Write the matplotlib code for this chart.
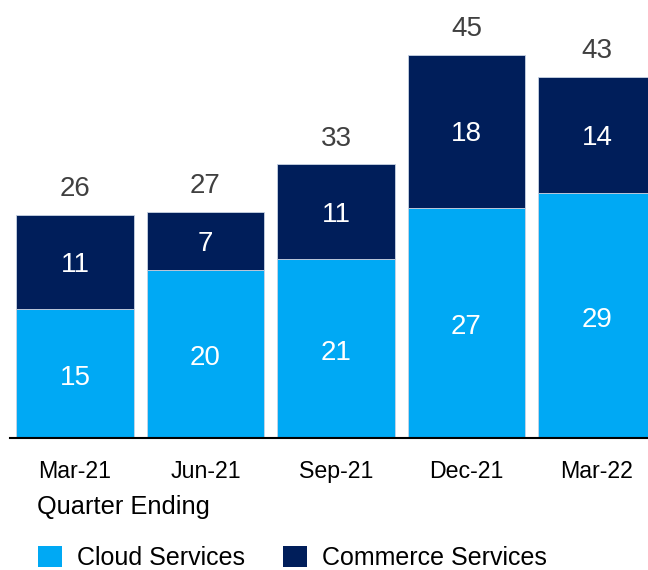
import matplotlib
matplotlib.use("Agg")
import matplotlib.pyplot as plt
from matplotlib.patches import Patch

# Data (segment heights, totals as printed above them)
quarters = ["Mar-21", "Jun-21", "Sep-21", "Dec-21", "Mar-22"]
cloud_services = [15.1, 19.65, 20.9, 26.9, 28.65]
commerce_services = [11.0, 6.8, 11.1, 17.9, 13.6]
totals = [26, 27, 33, 45, 43]

cloud_color = "#00A9F4"
commerce_color = "#001E5A"

plt.rcParams["font.family"] = ["Liberation Sans", "DejaVu Sans"]

fig = plt.figure(figsize=(6.48, 5.7), dpi=100)
ax = fig.add_axes([10 / 648, 132 / 570, 638 / 648, 0.75])

x = list(range(len(quarters)))
bar_width = 0.9

ax.bar(x, cloud_services, width=bar_width, color=cloud_color,
       edgecolor="#c8d4e4", linewidth=0.6)
ax.bar(x, commerce_services, width=bar_width, bottom=cloud_services,
       color=commerce_color, edgecolor="#c8d4e4", linewidth=0.6)

for i in x:
    top = cloud_services[i] + commerce_services[i]
    ax.annotate(f"{cloud_services[i]:.0f}", (i, cloud_services[i] / 2),
                xytext=(0, -3), textcoords="offset points",
                ha="center", va="center", color="white", fontsize=20)
    ax.annotate(f"{commerce_services[i]:.0f}", (i, cloud_services[i] + commerce_services[i] / 2),
                xytext=(0, -2), textcoords="offset points",
                ha="center", va="center", color="white", fontsize=20)
    ax.annotate(str(totals[i]), (i, top),
                xytext=(0, 18.5), textcoords="offset points",
                ha="center", va="center", color="#404040", fontsize=20)

ax.set_xlim(-0.498, 4.391)
ax.set_ylim(0, 50)
ax.set_xticks(x)
ax.set_xticklabels(quarters, fontsize=16.7)
ax.tick_params(axis="x", length=0, pad=16)
ax.set_yticks([])

for side in ["top", "right", "left"]:
    ax.spines[side].set_visible(False)
ax.spines["bottom"].set_linewidth(1.5)
ax.spines["bottom"].set_color("black")

fig.text(37 / 648, 1 - 507 / 570, "Quarter Ending", fontsize=18.3,
         ha="left", va="center")

handles = [Patch(facecolor=cloud_color, label="Cloud Services"),
           Patch(facecolor=commerce_color, label="Commerce Services")]
fig.legend(handles=handles, loc="upper left",
           bbox_to_anchor=(38 / 648, 1 - 545.5 / 570), ncol=2, frameon=False,
           fontsize=18, handlelength=0.96, handleheight=0.96,
           handletextpad=0.6, columnspacing=1.5, borderpad=0, borderaxespad=0)

fig.savefig("out.png", dpi=100)
